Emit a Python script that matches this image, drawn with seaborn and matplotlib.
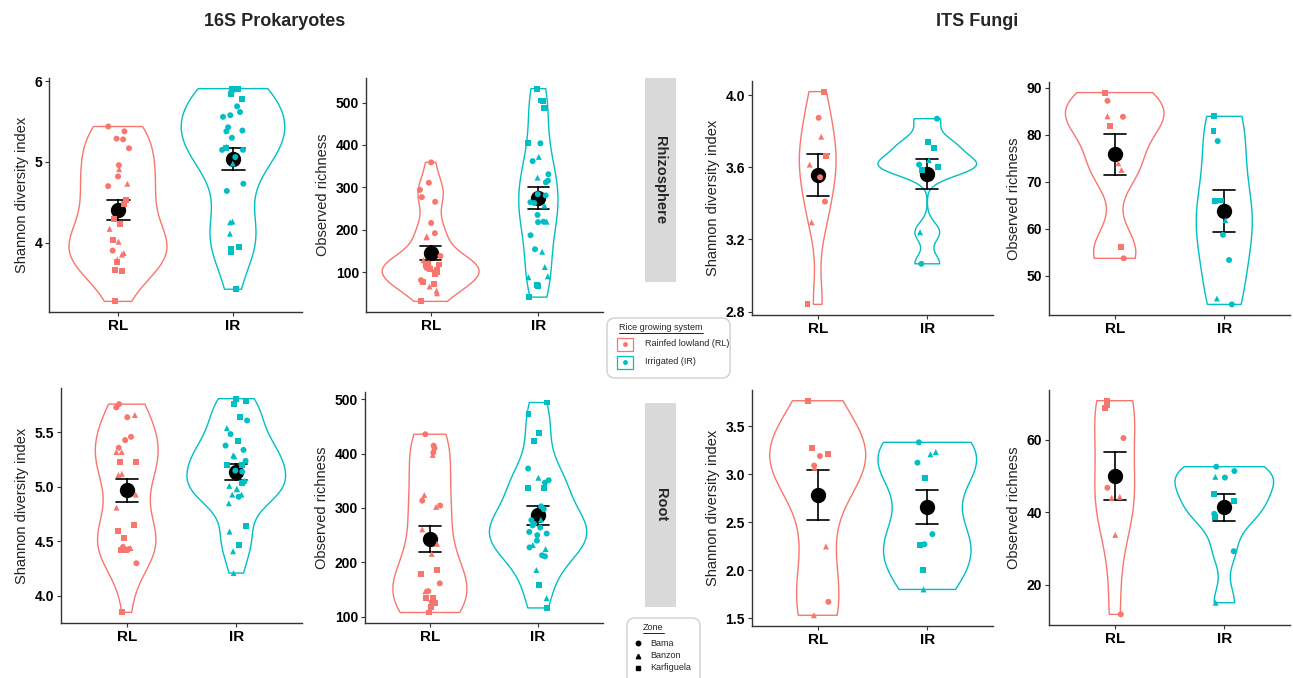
import numpy as np
import pandas as pd
import matplotlib
matplotlib.use("Agg")
import matplotlib.pyplot as plt
import seaborn as sns
from matplotlib.patches import FancyBboxPatch, Rectangle

# ---------------- data ----------------
systems = ["RL", "IR"]
system_colors = {"RL": "#F8766D", "IR": "#00BFC4"}
system_labels = ["Rainfed lowland (RL)", "Irrigated (IR)"]
zone_names = {"b": "Bama", "n": "Banzon", "k": "Karfiguela"}
zone_markers = {"Bama": "o", "Banzon": "^", "Karfiguela": "s"}

# 16S Prokaryotes - Rhizosphere - Shannon
pro_rhi_sha_RL = [5.44, 5.38, 5.29, 5.28, 5.17, 4.96, 4.91, 4.82, 4.73, 4.70, 4.53, 4.48, 4.29,
                  4.23, 4.17, 4.03, 4.01, 3.90, 3.87, 3.85, 3.79, 3.76, 3.66, 3.65, 3.27]
pro_rhi_sha_RL_zone = "bbbbbbnbnbkkkknknbnnnkkkk"
pro_rhi_sha_IR = [5.91, 5.91, 5.89, 5.84, 5.78, 5.69, 5.62, 5.58, 5.56, 5.43, 5.39, 5.38, 5.30, 5.19,
                  5.17, 5.15, 5.15, 5.06, 4.98, 4.73, 4.64, 4.25, 4.26, 4.11, 3.94, 3.92, 3.88, 3.42]
pro_rhi_sha_IR_zone = "kkbkkbbbbbbbbnkbbbnbbnnnkkkk"

# 16S Prokaryotes - Rhizosphere - Observed richness
pro_rhi_obs_RL = [359, 311, 294, 277, 266, 216, 192, 184, 182, 138, 128, 122, 118, 116, 108, 104,
                  100, 96, 81, 76, 72, 66, 56, 50, 31, 120, 110, 100]
pro_rhi_obs_RL_zone = "bbbbbbbnnbnnkkkkbkbkknnnkkbk"
pro_rhi_obs_IR = [533, 505, 504, 488, 488, 404, 404, 372, 362, 331, 323, 316, 312, 284, 281, 265,
                  263, 257, 235, 219, 219, 218, 187, 154, 148, 112, 90, 88, 70, 68, 41]
pro_rhi_obs_IR_zone = "kkkkkkbnbbnbbbbbbnbbnbbbnnnnkkk"

# 16S Prokaryotes - Root - Shannon
pro_roo_sha_RL = [5.76, 5.73, 5.66, 5.64, 5.46, 5.43, 5.36, 5.32, 5.32, 5.23, 5.23, 5.12, 5.11, 4.93,
                  4.81, 4.65, 4.60, 4.53, 4.45, 4.43, 4.42, 4.44, 4.42, 4.30, 3.85]
pro_roo_sha_RL_zone = "bbnbbbbnnkknnnnkkkbbknkbk"
pro_roo_sha_IR = [5.81, 5.79, 5.76, 5.645, 5.61, 5.54, 5.485, 5.42, 5.38, 5.34, 5.29, 5.28, 5.24,
                  5.20, 5.20, 5.15, 5.14, 5.04, 5.05, 5.01, 4.98, 4.98, 4.93, 4.93, 4.91, 4.85,
                  4.64, 4.59, 4.47, 4.41, 4.21]
pro_roo_sha_IR_zone = "kkkkbnbkbbnnbkkbbkbnnnnnbnknknn"

# 16S Prokaryotes - Root - Observed richness
pro_roo_obs_RL = [435.6, 414.6, 409.8, 402, 397.7, 323.8, 313.5, 304.5, 302, 260.6, 234, 215.5,
                  185.4, 179.4, 161.4, 147, 147, 134.9, 134.9, 127, 125.3, 118, 107.8]
pro_roo_obs_RL_zone = "bbbbnnbbnnnnkkbnbkkbkkk"
pro_roo_obs_IR = [494, 473, 438, 423.6, 372.5, 355.6, 351, 346.6, 337.6, 337.6, 303, 298, 278.6,
                  277.5, 271, 268, 264, 256, 253, 250, 240, 232, 227.5, 224.5, 213, 211, 186,
                  157.8, 134, 116.2]
pro_roo_obs_IR_zone = "kkkkbnbbkkbbnbbbbbbbbnbnbbnknk"

# ITS Fungi - Rhizosphere - Shannon
fun_rhi_sha_RL = [4.02, 3.875, 3.77, 3.665, 3.615, 3.545, 3.41, 3.295, 2.84]
fun_rhi_sha_RL_zone = "kbnknbbnk"
fun_rhi_sha_IR = [3.87, 3.74, 3.71, 3.64, 3.60, 3.585, 3.615, 3.24, 3.065]
fun_rhi_sha_IR_zone = "bkknkkbnb"

# ITS Fungi - Rhizosphere - Observed richness
fun_rhi_obs_RL = [88.95, 87.2, 83.8, 83.9, 81.9, 73.9, 72.5, 56.2, 53.7]
fun_rhi_obs_RL_zone = "kbbnknnkb"
fun_rhi_obs_IR = [83.9, 80.75, 78.65, 66.0, 65.8, 61.8, 58.7, 53.35, 45.15, 43.9]
fun_rhi_obs_IR_zone = "kkbkknbbnb"

# ITS Fungi - Root - Shannon
fun_roo_sha_RL = [3.765, 3.273, 3.214, 3.189, 3.09, 3.067, 2.247, 1.671, 1.531]
fun_roo_sha_RL_zone = "kkkbbnnbn"
fun_roo_sha_IR = [3.332, 3.23, 3.207, 3.12, 2.962, 2.376, 2.271, 2.264, 2.006, 1.80]
fun_roo_sha_IR_zone = "bnnbkbbkkn"

# ITS Fungi - Root - Observed richness
fun_roo_obs_RL = [70.8, 69.6, 68.7, 60.5, 46.8, 44.0, 44.3, 33.8, 11.9]
fun_roo_obs_RL_zone = "kkkbbnnnb"
fun_roo_obs_IR = [52.6, 51.4, 49.8, 49.6, 45.1, 43.1, 39.6, 38.7, 29.3, 15.1]
fun_roo_obs_IR_zone = "bbnbkkbkbn"

# tick labels
ticks_pro_rhi_sha = [4, 5, 6]
ticks_pro_rhi_obs = [100, 200, 300, 400, 500]
ticks_pro_roo_sha = [4.0, 4.5, 5.0, 5.5]
ticks_pro_roo_obs = [100, 200, 300, 400, 500]
ticks_fun_rhi_sha = [2.8, 3.2, 3.6, 4.0]
ticks_fun_rhi_obs = [50, 60, 70, 80, 90]
ticks_fun_roo_sha = [1.5, 2.0, 2.5, 3.0, 3.5]
ticks_fun_roo_obs = [20, 40, 60]

ylab_sha = "Shannon diversity index"
ylab_obs = "Observed richness"
titles = ["16S Prokaryotes", "ITS Fungi"]
compartments = ["Rhizosphere", "Root"]
zone_title = "Zone"
system_title = "Rice growing system"

# ---------------- figure ----------------
sns.set_style("ticks")
plt.rcParams["font.family"] = ["Liberation Sans", "DejaVu Sans"]
np.random.seed(7)

W, H = 1293, 678
fig = plt.figure(figsize=(W / 100, H / 100), dpi=100)

ov = fig.add_axes([0, 0, 1, 1])
ov.set_xlim(0, W)
ov.set_ylim(H, 0)
ov.axis("off")


def nrd0_factor(kde):
    """R's bw.nrd0 expressed as a scipy gaussian_kde factor."""
    x = np.asarray(kde.dataset).ravel()
    sd = np.std(x, ddof=1)
    q75, q25 = np.percentile(x, [75, 25])
    lo = min(sd, (q75 - q25) / 1.34)
    if lo <= 0:
        lo = sd if sd > 0 else 1.0
    bw = 0.9 * lo * len(x) ** (-0.2)
    return bw / sd


def add_ax(x0, y0, x1, y1):
    return fig.add_axes([x0 / W, 1 - y1 / H, (x1 - x0) / W, (y1 - y0) / H])


def draw_panel(ax, rl, rl_z, ir, ir_z, ylabel, yticks, fmt):
    df = pd.DataFrame({
        "system": ["RL"] * len(rl) + ["IR"] * len(ir),
        "value": list(rl) + list(ir),
        "zone": [zone_names[c] for c in rl_z + ir_z],
    })
    sns.violinplot(data=df, x="system", y="value", hue="system", order=systems,
                   hue_order=systems, palette=system_colors, fill=False, cut=0,
                   inner=None, density_norm="area", common_norm=True,
                   bw_method=nrd0_factor, bw_adjust=1.0, width=0.9, linewidth=1.0,
                   legend=False, gridsize=200, ax=ax)
    for zone, mk in zone_markers.items():
        sub = df[df["zone"] == zone]
        sns.stripplot(data=sub, x="system", y="value", hue="system", order=systems,
                      hue_order=systems, palette=system_colors, marker=mk, size=4.3,
                      jitter=0.1, linewidth=0, legend=False, ax=ax)
    sns.pointplot(data=df, x="system", y="value", order=systems, color="black",
                  errorbar="se", capsize=0.2, linestyle="none", markersize=9,
                  err_kws={"linewidth": 1.2}, ax=ax)
    ax.set_xlim(-0.6, 1.6)
    ax.set_xlabel("")
    ax.set_ylabel(ylabel, fontsize=10.5, color="#222222", labelpad=4)
    ax.set_yticks(yticks)
    ax.set_yticklabels([fmt.format(t) for t in yticks])
    ax.tick_params(axis="y", labelsize=10, length=3, width=0.8, colors="#333333",
                   labelcolor="black", pad=2)
    ax.tick_params(axis="x", labelsize=11, length=3, width=0.8, colors="#333333",
                   labelcolor="black", pad=2)
    for lab in ax.get_xticklabels() + ax.get_yticklabels():
        lab.set_fontweight("bold")
    for s in ["top", "right"]:
        ax.spines[s].set_visible(False)
    for s in ["left", "bottom"]:
        ax.spines[s].set_color("#333333")
        ax.spines[s].set_linewidth(1.0)


panels = [
    ((49, 78, 302, 312), pro_rhi_sha_RL, pro_rhi_sha_RL_zone, pro_rhi_sha_IR, pro_rhi_sha_IR_zone, ylab_sha, ticks_pro_rhi_sha, "{:.0f}"),
    ((366, 78, 603, 312), pro_rhi_obs_RL, pro_rhi_obs_RL_zone, pro_rhi_obs_IR, pro_rhi_obs_IR_zone, ylab_obs, ticks_pro_rhi_obs, "{:.0f}"),
    ((752, 81, 993, 315), fun_rhi_sha_RL, fun_rhi_sha_RL_zone, fun_rhi_sha_IR, fun_rhi_sha_IR_zone, ylab_sha, ticks_fun_rhi_sha, "{:.1f}"),
    ((1049, 82, 1290, 315), fun_rhi_obs_RL, fun_rhi_obs_RL_zone, fun_rhi_obs_IR, fun_rhi_obs_IR_zone, ylab_obs, ticks_fun_rhi_obs, "{:.0f}"),
    ((61, 388, 302, 623), pro_roo_sha_RL, pro_roo_sha_RL_zone, pro_roo_sha_IR, pro_roo_sha_IR_zone, ylab_sha, ticks_pro_roo_sha, "{:.1f}"),
    ((365, 392, 603, 623), pro_roo_obs_RL, pro_roo_obs_RL_zone, pro_roo_obs_IR, pro_roo_obs_IR_zone, ylab_obs, ticks_pro_roo_obs, "{:.0f}"),
    ((752, 390, 993, 626), fun_roo_sha_RL, fun_roo_sha_RL_zone, fun_roo_sha_IR, fun_roo_sha_IR_zone, ylab_sha, ticks_fun_roo_sha, "{:.1f}"),
    ((1049, 390, 1290, 625), fun_roo_obs_RL, fun_roo_obs_RL_zone, fun_roo_obs_IR, fun_roo_obs_IR_zone, ylab_obs, ticks_fun_roo_obs, "{:.0f}"),
]

for box, rl, rlz, ir, irz, ylab, ticks, fmt in panels:
    ax = add_ax(*box)
    draw_panel(ax, rl, rlz, ir, irz, ylab, ticks, fmt)

# titles
ov.text(275, 21, titles[0], ha="center", va="center", fontsize=13, fontweight="bold")
ov.text(977, 21, titles[1], ha="center", va="center", fontsize=13, fontweight="bold")

# strips
for (y0, y1), name in zip([(78, 282), (403, 607)], compartments):
    ov.add_patch(Rectangle((645, y0), 31, y1 - y0, facecolor="#D9D9D9", edgecolor="none"))
    ov.text(660.5, (y0 + y1) / 2, name, rotation=270, ha="center", va="center",
            fontsize=10.5, fontweight="bold")

# legend: rice growing system
ov.add_patch(FancyBboxPatch((607, 318), 123, 60, boxstyle="round,pad=0,rounding_size=8",
                            facecolor="white", edgecolor="#CFCFCF", linewidth=1.0))
t_sys = ov.text(619, 328, system_title, ha="left", va="center", fontsize=6.5)
for i, (s, lab) in enumerate(zip(systems, system_labels)):
    yc = 344 + i * 18
    ov.add_patch(Rectangle((617, yc - 6.5), 16, 13, facecolor="none",
                           edgecolor=system_colors[s], linewidth=0.9))
    ov.plot([625], [yc], marker="o", ms=2.5, color=system_colors[s], ls="none")
    ov.text(645, yc, lab, ha="left", va="center", fontsize=6.5)

# legend: zone
ov.add_patch(FancyBboxPatch((627, 618), 73, 75, boxstyle="round,pad=0,rounding_size=8",
                            facecolor="white", edgecolor="#CFCFCF", linewidth=1.0))
t_zone = ov.text(643, 628, zone_title, ha="left", va="center", fontsize=6.5)
for i, (z, mk) in enumerate(zone_markers.items()):
    yc = 643 + i * 12.5
    ov.plot([638], [yc], marker=mk, ms=3.2, color="black", ls="none")
    ov.text(650, yc, z, ha="left", va="center", fontsize=6.5)

# underline legend titles
fig.canvas.draw()
for t in (t_sys, t_zone):
    bb = t.get_window_extent()
    yline = H - bb.y0 + 0.5
    ov.plot([bb.x0, bb.x1], [yline, yline], color="black", lw=0.6)

fig.savefig("out.png", dpi=100)
